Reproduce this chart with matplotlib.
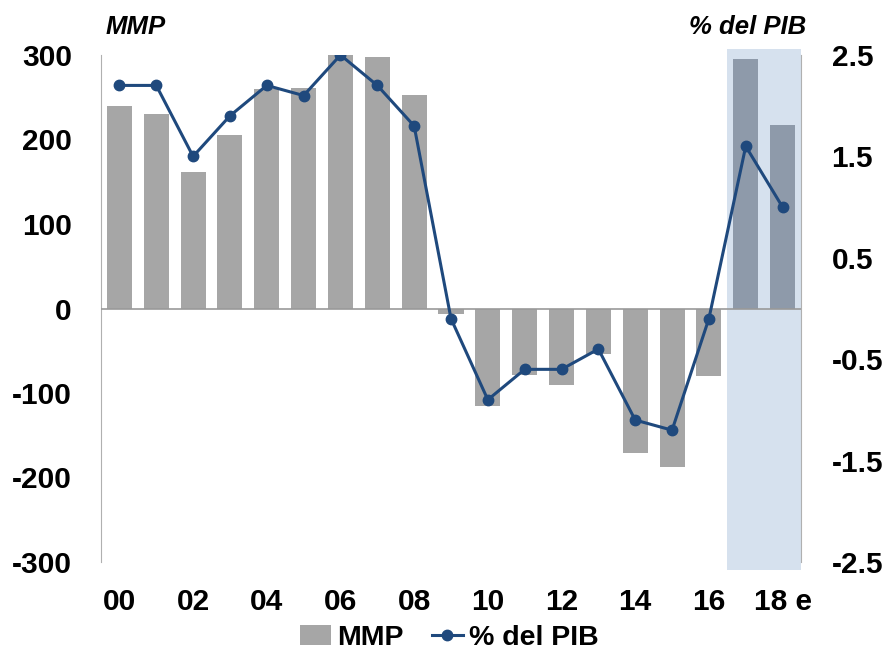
import matplotlib
matplotlib.use("Agg")
import matplotlib.pyplot as plt
from matplotlib.patches import Rectangle

plt.rcParams['font.family'] = ['Liberation Sans', 'DejaVu Sans']
plt.rcParams['font.weight'] = 'bold'
plt.rcParams['axes.unicode_minus'] = False

# data
years = list(range(2000, 2019))
mmp = [240, 230, 162, 205, 260, 261, 303, 298, 253, -6,
       -115, -79, -91, -54, -171, -187, -80, 295, 217]
pct_pib = [2.2, 2.2, 1.5, 1.9, 2.2, 2.1, 2.5, 2.2, 1.8, -0.1,
           -0.9, -0.6, -0.6, -0.4, -1.1, -1.2, -0.1, 1.6, 1.0]
tick_labels = ['00', '02', '04', '06', '08', '10', '12', '14', '16', '18 e']
n_forecast = 2

x = list(range(len(years)))
grey = '#a6a6a6'
blue = '#1f497d'
bar_colors = [grey] * (len(years) - n_forecast) + ['#8e9aaa'] * n_forecast

fig = plt.figure(figsize=(8.89, 6.58), dpi=100)
ax = fig.add_axes([101 / 889, 1 - 562 / 658, 700 / 889, 507 / 658])
ax2 = ax.twinx()

# forecast shading
shade = Rectangle((len(years) - n_forecast - 0.5, -0.016), n_forecast, 1.028,
                  transform=ax.get_xaxis_transform(), facecolor='#d6e1ee',
                  edgecolor='none', clip_on=False, zorder=0)
ax.add_patch(shade)

bars = ax.bar(x, mmp, width=0.68, color=bar_colors, zorder=2, label='MMP')
ax.axhline(0, color='#999999', lw=1.2, zorder=3)
ax.set_ylim(-300, 300)
ax.set_xlim(-0.5, len(years) - 0.5)
ax.set_yticks([-300, -200, -100, 0, 100, 200, 300])
ax.set_xticks(x[::2])
ax.set_xticklabels(tick_labels)

line, = ax2.plot(x, pct_pib, color=blue, lw=2.2, marker='o', ms=7.5,
                 label='% del PIB', zorder=4)
ax2.set_ylim(-2.5, 2.5)
ax2.set_yticks([-2.5, -1.5, -0.5, 0.5, 1.5, 2.5])

for a in (ax, ax2):
    a.spines['top'].set_visible(False)
    a.spines['bottom'].set_visible(False)
    a.spines['left'].set_color('#b0b0b0')
    a.spines['right'].set_color('#b0b0b0')
    a.tick_params(length=0, labelsize=21.5)
ax.tick_params(axis='y', pad=21)
ax.tick_params(axis='x', pad=19)
ax2.tick_params(axis='y', pad=22)
ax2.spines['left'].set_visible(False)
ax.spines['right'].set_visible(False)

fig.text(106 / 889, 1 - 34 / 658, 'MMP', fontsize=18.5, style='italic',
         fontweight='bold', ha='left', va='baseline')
fig.text(806 / 889, 1 - 34 / 658, '% del PIB', fontsize=18.5, style='italic',
         fontweight='bold', ha='right', va='baseline')

fig.legend([bars, line], ['MMP', '% del PIB'], loc='center',
           bbox_to_anchor=(449 / 889, 1 - 638 / 658), ncol=2, frameon=False,
           fontsize=20.5, handlelength=1.1, handletextpad=0.2, columnspacing=1.0)

fig.savefig('out.png', dpi=100)
